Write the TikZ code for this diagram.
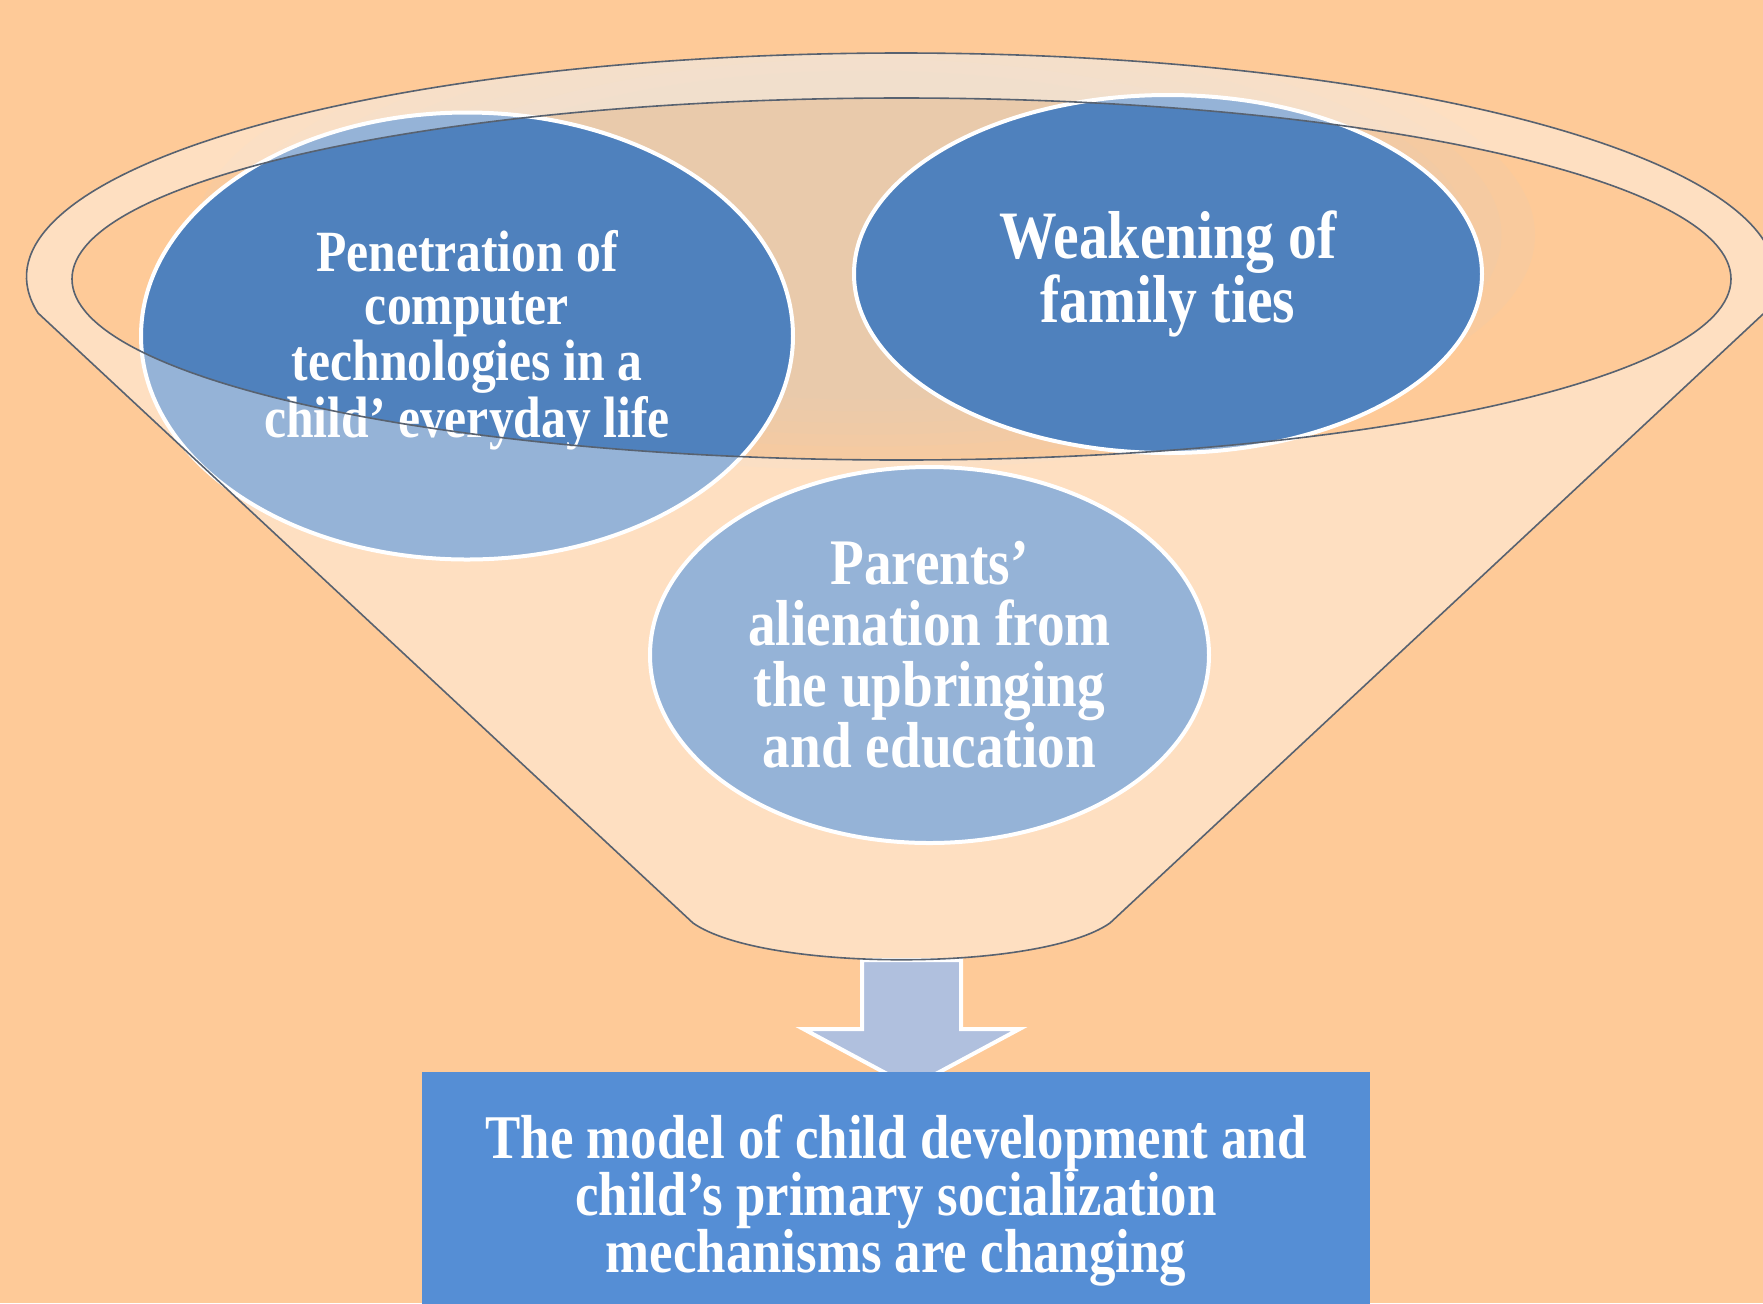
\documentclass[tikz,border=0pt]{standalone}
\usepackage{fontspec}
\setmainfont{Liberation Serif}[FakeStretch=0.85]
\usetikzlibrary{shapes.geometric}

\definecolor{peachbg}{RGB}{254,202,152}
\definecolor{tanback}{RGB}{229,203,180}
\definecolor{blobblue}{RGB}{79,129,189}
\definecolor{arrowblue}{RGB}{176,192,222}
\definecolor{boxblue}{RGB}{85,142,213}
\definecolor{rimgrey}{RGB}{88,98,112}

\tikzset{
  blob/.style={ellipse, draw=white, line width=2pt, fill=blobblue, text=white, align=center, inner sep=0pt},
  rim/.style={draw=rimgrey, line width=0.8pt},
  lbl/.style={text=white, align=center, inner sep=0pt},
}

\begin{document}
\begin{tikzpicture}[x=0.5pt,y=0.5pt,yscale=-1,xscale=1]
\useasboundingbox (0,0) rectangle (1763,1303);

%Shape: Rectangle (background)
\fill [peachbg] (0,0) rectangle (1763,1303);
%Shape: Ellipse (back of the funnel, darker towards the middle)
\begin{scope}
\clip (901.5,277) ellipse [x radius=874.5, y radius=224];
\foreach \s in {1.00,0.95,...,0.65}
  \fill [tanback, opacity=0.18] (865,235) ellipse [x radius=\s*670, y radius=\s*235];
\end{scope}

%Shape: Down Arrow
\draw [white, line width=2pt, fill=arrowblue, line join=miter] (862,960) -- (961,960) -- (961,1029) -- (1019.5,1029) -- (911.5,1087) -- (803.5,1029) -- (862,1029) -- cycle ;
%Shape: Rectangle
\fill [boxblue] (421.6,1071.6) rectangle (1369.5,1320);
% Text Node
\node (outcome) [lbl, font=\bfseries\fontsize{31.1}{28.5}\selectfont] at (896,1200) {The model of child development and\\child’s primary socialization\\mechanisms are changing};

%Shape: Ellipse
\node (pen) [blob, minimum width=326pt, minimum height=223.5pt, font=\bfseries\fontsize{29.2}{26.5}\selectfont] at (467,336) {\raisebox{-3pt}[\height][\depth]{\begin{tabular}{@{}c@{}}Penetration of\\computer\\technologies in a\\child’ everyday life\end{tabular}}};
%Shape: Ellipse
\node (weak) [blob, minimum width=314pt, minimum height=179pt, font=\bfseries\fontsize{33.9}{32}\selectfont] at (1168,274) {Weakening of\\family ties};
%Shape: Ellipse
\node (parents) [blob, minimum width=279.5pt, minimum height=188pt, font=\bfseries\fontsize{32.5}{30.5}\selectfont] at (929.5,655) {Parents’\\alienation from\\the upbringing\\and education};

%Shape: Funnel (front, see-through)
\fill [white, fill opacity=0.4, even odd rule] (38,313) arc [start angle=170.75, end angle=369.25, x radius=874.5, y radius=224] -- (1110,923) .. controls (1040,972) and (763,972) .. (693,923) -- cycle (901.5,279) ellipse [x radius=829.5, y radius=181];
%Shape: Funnel outline
\draw [rim] (38,313) arc [start angle=170.75, end angle=369.25, x radius=874.5, y radius=224] -- (1110,923) .. controls (1040,972) and (763,972) .. (693,923) -- cycle ;
%Shape: Ellipse (inner rim)
\draw [rim] (901.5,279) ellipse [x radius=829.5, y radius=181];

\end{tikzpicture}
\end{document}
